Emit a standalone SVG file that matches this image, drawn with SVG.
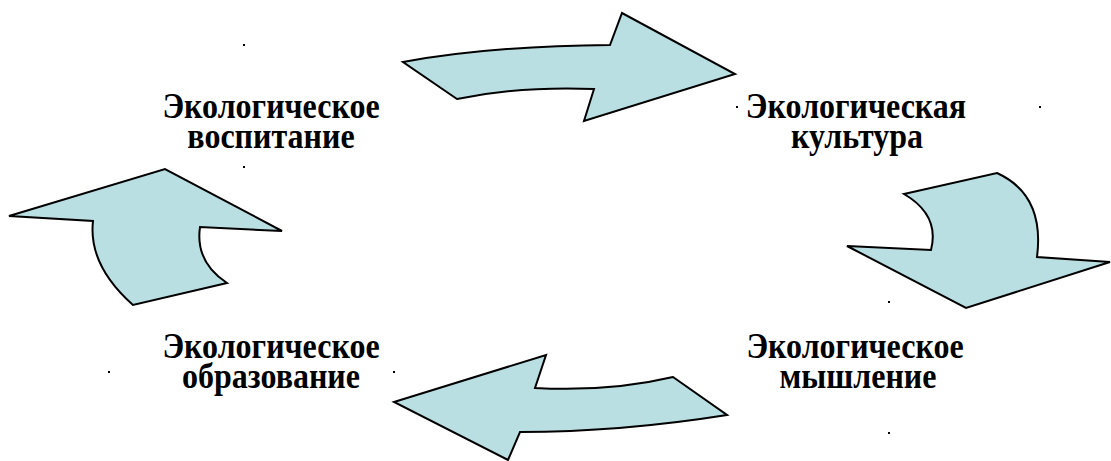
<svg xmlns="http://www.w3.org/2000/svg" width="1111" height="461" viewBox="0 0 1111 461">
  <style>
    .arrow { fill: #badfe3; stroke: #000; stroke-width: 2; stroke-linejoin: miter; }
    .label { font-family: "Liberation Serif", "Times New Roman", serif; font-weight: bold; font-size: 32px; fill: #000; text-anchor: middle; }
    .dot { fill: #000; }
  </style>
  <rect width="1111" height="461" fill="#fff"/>

  <!-- curved block arrows linking the four stages -->
  <g id="connectors">
    <path id="arrow-top" class="arrow" d="M403,62 Q490,46 610,45 L622,13 L735,74 L584,121 L594,89 Q520,86 457,99 Z"/>
    <path id="arrow-right" class="arrow" d="M904,194 L997,173 Q1045,195 1037,257 L1110,262 L966,308 L847,246 L931,250 Q940,215 904,194 Z"/>
    <path id="arrow-bottom" class="arrow" d="M394,402 L546,355 L535,388 Q610,392 673,377 L727,415 Q620,432 520,432 L508,460 Z"/>
    <path id="arrow-left" class="arrow" d="M9,216 L165,169 L282,231 L200,227 Q195,262 227,283 L133,305 Q88,265 93,221 Z"/>
  </g>

  <!-- stage labels: slightly tall lettering, two lines each -->
  <g id="node-upbringing">
    <text class="label" transform="translate(271,118) scale(1,1.1)"><tspan x="0" y="0">Экологическое</tspan><tspan x="0" dy="27.5">воспитание</tspan></text>
  </g>
  <g id="node-culture">
    <text class="label" transform="translate(856,118) scale(1,1.1)"><tspan x="0" y="0">Экологическая</tspan><tspan x="1" dy="27.5">культура</tspan></text>
  </g>
  <g id="node-thinking">
    <text class="label" transform="translate(855,358) scale(1,1.1)"><tspan x="0" y="0">Экологическое</tspan><tspan x="3" dy="27.5">мышление</tspan></text>
  </g>
  <g id="node-education">
    <text class="label" transform="translate(271,358) scale(1,1.1)"><tspan x="0" y="0">Экологическое</tspan><tspan x="0" dy="27.5">образование</tspan></text>
  </g>

  <!-- small marker points -->
  <g id="markers">
    <rect class="dot" x="243" y="44" width="2" height="2"/>
    <rect class="dot" x="243" y="166" width="2" height="2"/>
    <rect class="dot" x="736" y="106" width="2" height="2"/>
    <rect class="dot" x="1039" y="106" width="2" height="2"/>
    <rect class="dot" x="888" y="301" width="2" height="2"/>
    <rect class="dot" x="888" y="432" width="2" height="2"/>
    <rect class="dot" x="108" y="371" width="2" height="2"/>
    <rect class="dot" x="393" y="371" width="2" height="2"/>
  </g>
</svg>
